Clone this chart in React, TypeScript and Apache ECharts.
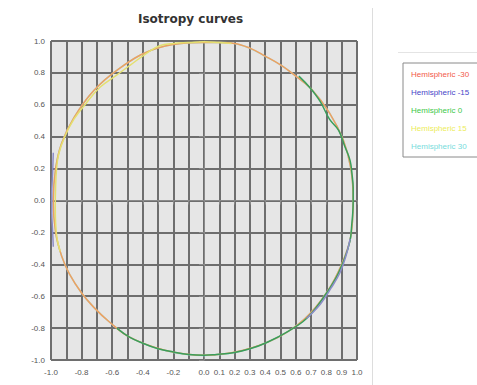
import React, { useEffect, useRef } from "react";
import * as echarts from "echarts";

const TITLE = "Isotropy curves";
const SERIES_NAMES = ["Hemispheric -30", "Hemispheric -15", "Hemispheric 0", "Hemispheric 15", "Hemispheric 30"];
const SERIES_COLORS = ["#f25a4a", "#4646c8", "#3cc84a", "#ecec5a", "#78dcdc"];
const LINE_COLORS = ["#eea060", "#8c8cc8", "#3a9e5c", "#e4e070", "#9ae0e0"];

// Hemispheric -30
const hemM30: [number, number][] = [
  [0.0, 0.99], [0.1, 0.99], [0.2, 0.985], [0.3, 0.955], [0.4, 0.905], [0.5, 0.85], [0.6, 0.78],
  [0.7, 0.7], [0.82, 0.55], [0.91, 0.38], [0.96, 0.2], [0.975, 0.0], [0.96, -0.22], [0.9, -0.4],
  [0.8, -0.58], [0.66, -0.74], [0.48, -0.86], [0.25, -0.94], [0.0, -0.97], [-0.25, -0.94],
  [-0.48, -0.86], [-0.62, -0.76], [-0.72, -0.67], [-0.8, -0.58], [-0.88, -0.46], [-0.93, -0.35],
  [-0.97, -0.2], [-0.985, 0.0], [-0.97, 0.2], [-0.93, 0.36], [-0.85, 0.52], [-0.72, 0.69],
  [-0.55, 0.83], [-0.35, 0.94], [-0.15, 0.985], [0.0, 0.99],
];
// Hemispheric -15 (two visible stretches)
const hemM15Left: [number, number][] = [
  [-0.985, 0.3], [-0.99, 0.16], [-0.995, 0.05], [-0.995, -0.08], [-0.99, -0.18], [-0.985, -0.29],
];
const hemM15Right: [number, number][] = [
  [0.955, -0.24], [0.93, -0.34], [0.89, -0.45], [0.83, -0.55], [0.76, -0.65], [0.67, -0.74],
];
// Hemispheric 0
const hem0: [number, number][] = [
  [0.62, 0.78], [0.69, 0.71], [0.76, 0.62], [0.82, 0.51], [0.88, 0.44], [0.92, 0.34], [0.955, 0.25],
  [0.968, 0.16], [0.975, 0.08], [0.975, -0.01], [0.972, -0.08], [0.965, -0.16], [0.955, -0.25],
  [0.92, -0.36], [0.86, -0.49], [0.78, -0.61], [0.67, -0.74], [0.55, -0.82], [0.41, -0.89],
  [0.3, -0.93], [0.19, -0.955], [0.08, -0.965], [0.0, -0.97], [-0.1, -0.965], [-0.2, -0.95],
  [-0.3, -0.93], [-0.4, -0.895], [-0.49, -0.855], [-0.57, -0.8],
];
// Hemispheric 15
const hem15: [number, number][] = [
  [0.18, 0.985], [0.1, 0.99], [0.0, 0.995], [-0.1, 0.99], [-0.2, 0.985], [-0.29, 0.97], [-0.38, 0.92],
  [-0.48, 0.85], [-0.58, 0.78], [-0.68, 0.71], [-0.77, 0.61], [-0.85, 0.51], [-0.91, 0.4],
  [-0.95, 0.29], [-0.965, 0.18], [-0.97, 0.08], [-0.972, -0.03], [-0.97, -0.14], [-0.96, -0.24],
  [-0.94, -0.32],
];
// Hemispheric 30 (lies under the other curves)
const hem30: [number, number][] = [
  [0.0, 0.99], [0.1, 0.99], [0.2, 0.984], [0.3, 0.954], [0.4, 0.904], [0.5, 0.85], [0.6, 0.78],
  [0.7, 0.7], [0.82, 0.55], [0.91, 0.38], [0.96, 0.2], [0.975, 0.0], [0.96, -0.22], [0.9, -0.4],
  [0.8, -0.58], [0.66, -0.74], [0.48, -0.86], [0.25, -0.942], [0.0, -0.972], [-0.25, -0.942],
  [-0.48, -0.86], [-0.62, -0.76], [-0.72, -0.67], [-0.8, -0.58], [-0.88, -0.46], [-0.93, -0.35],
  [-0.97, -0.2], [-0.985, 0.0], [-0.97, 0.2], [-0.93, 0.36], [-0.85, 0.52], [-0.72, 0.69],
  [-0.55, 0.83], [-0.35, 0.94], [-0.15, 0.985], [0.0, 0.99],
];

const FONT = "Liberation Sans, Arial, sans-serif";

function lineSeries(name: string, idx: number, data: [number, number][]) {
  return {
    type: "line",
    name,
    data,
    smooth: 0.4,
    symbol: "none",
    color: SERIES_COLORS[idx],
    lineStyle: { color: LINE_COLORS[idx], width: 1.5 },
  };
}

export default function App() {
  const ref = useRef<HTMLDivElement>(null);
  useEffect(() => {
    if (!ref.current) return;
    const chart = echarts.init(ref.current, null, { renderer: "svg" });
    chart.setOption({
      animation: false,
      backgroundColor: "#ffffff",
      title: {
        text: TITLE,
        left: 133,
        top: 8,
        textStyle: { fontFamily: "DejaVu Sans, sans-serif", fontSize: 12, fontWeight: "bold", color: "#333" },
      },
      legend: {
        orient: "vertical",
        left: 403,
        top: 63,
        padding: [6, 40, 6, 2],
        borderColor: "#8a8a8a",
        borderWidth: 1,
        icon: "rect",
        itemWidth: 1,
        itemHeight: 10,
        itemGap: 8,
        itemStyle: { opacity: 0 },
        lineStyle: { opacity: 0 },
        selectedMode: false,
        textStyle: { fontFamily: FONT, fontSize: 8, lineHeight: 10 },
        data: SERIES_NAMES.map((n, i) => ({ name: n, textStyle: { color: SERIES_COLORS[i] } })),
      },
      grid: {
        left: 51,
        right: 120,
        top: 41,
        bottom: 25,
        show: true,
        backgroundColor: "#e6e6e6",
        borderWidth: 0,
      },
      xAxis: {
        type: "value",
        min: -1,
        max: 1,
        interval: 0.1,
        axisLine: { show: true, lineStyle: { color: "#8a8a8a" } },
        axisTick: { show: true, length: 4, lineStyle: { color: "#8a8a8a" } },
        splitLine: { show: true, lineStyle: { color: "#6e6e6e", width: 2 } },
        axisLabel: {
          fontFamily: FONT,
          fontSize: 8,
          color: "#555",
          margin: 8,
          formatter: (v: number) => {
            const n = Math.round(v * 10);
            if (n < 0 && n % 2 !== 0) return "";
            return (n / 10).toFixed(1);
          },
        },
      },
      yAxis: {
        type: "value",
        min: -1,
        max: 1,
        interval: 0.2,
        axisLine: { show: true, lineStyle: { color: "#8a8a8a" } },
        axisTick: { show: true, length: 5, lineStyle: { color: "#8a8a8a" } },
        splitLine: { show: true, lineStyle: { color: "#6e6e6e", width: 2 } },
        axisLabel: {
          fontFamily: FONT,
          fontSize: 8,
          color: "#555",
          margin: 6,
          formatter: (v: number) => (Math.round(v * 10) / 10).toFixed(1),
        },
      },
      graphic: [
        { type: "line", shape: { x1: 372.5, y1: 8, x2: 372.5, y2: 385 }, style: { stroke: "#dddddd", lineWidth: 1 } },
        { type: "line", shape: { x1: 398, y1: 52.5, x2: 477, y2: 52.5 }, style: { stroke: "#e4e4e4", lineWidth: 1 } },
      ],
      series: [
        lineSeries(SERIES_NAMES[4], 4, hem30),
        lineSeries(SERIES_NAMES[0], 0, hemM30),
        lineSeries(SERIES_NAMES[2], 2, hem0),
        lineSeries(SERIES_NAMES[3], 3, hem15),
        lineSeries(SERIES_NAMES[1], 1, hemM15Left),
        lineSeries(SERIES_NAMES[1], 1, hemM15Right),
      ],
    });
    return () => chart.dispose();
  }, []);
  return (
    <div
      ref={ref}
      style={{ position: "fixed", left: 0, top: 0, width: 477, height: 385, background: "#fff" }}
    />
  );
}
